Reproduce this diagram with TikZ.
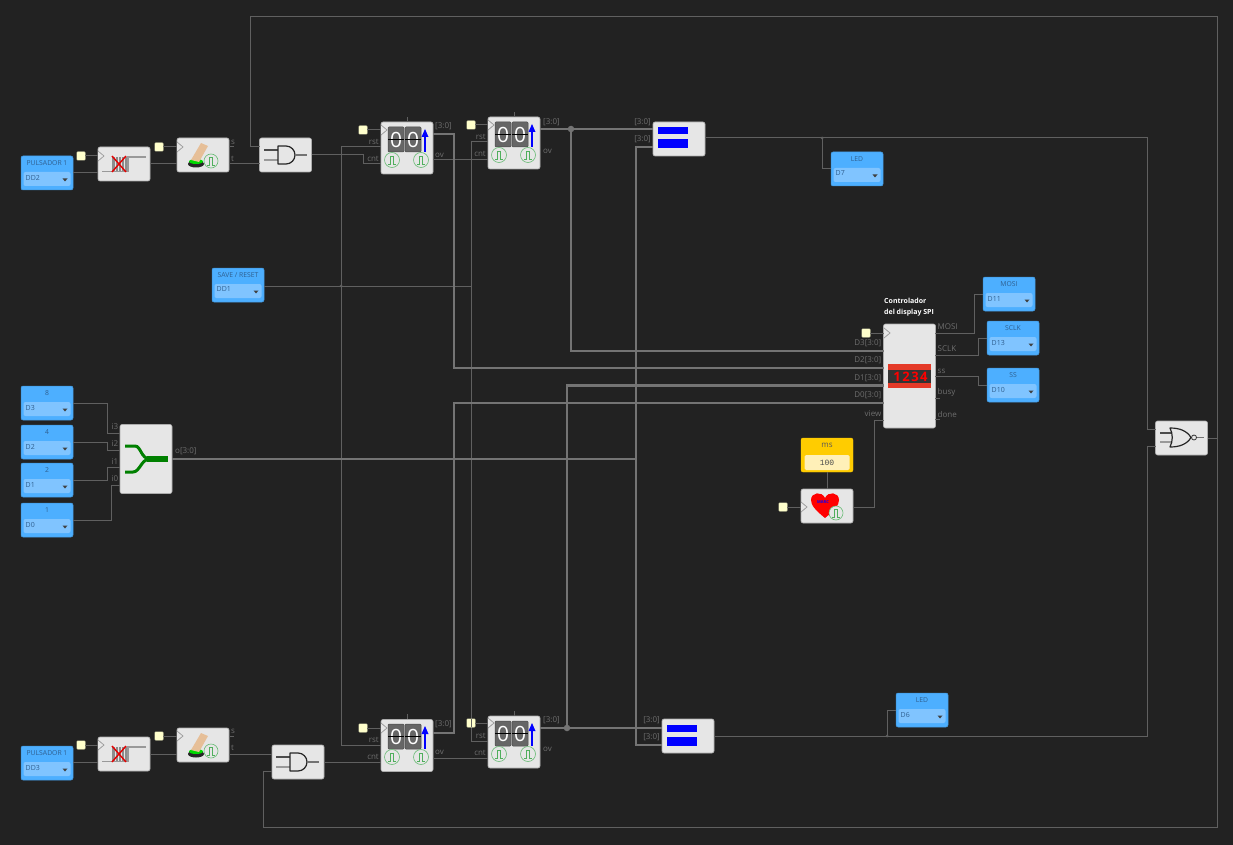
\documentclass[tikz,border=0pt]{standalone}
\usepackage{fontspec}
\setmainfont{Open Sans}
\newfontfamily\monofont{Liberation Mono}
\usetikzlibrary{positioning}
\definecolor{bgcol}{HTML}{222222}
\definecolor{blockcol}{HTML}{E6E6E6}
\definecolor{bluecol}{HTML}{4DAFFF}
\definecolor{bluein}{HTML}{80C4FF}
\definecolor{bluetxt}{HTML}{2F5F8F}
\definecolor{wirecol}{HTML}{606060}
\definecolor{buscol}{HTML}{747474}
\definecolor{labcol}{HTML}{6E6E6E}
\definecolor{yelcol}{HTML}{FFFFCC}
\definecolor{pulsecol}{HTML}{4FAF5C}
\definecolor{fingcol}{HTML}{E6BF98}
\definecolor{goldcol}{HTML}{FFCC00}
\definecolor{goldin}{HTML}{FFF0B8}
\definecolor{dispcol}{HTML}{E43A28}
\tikzset{
  block/.style={draw=blockcol!75!black,fill=blockcol,rounded corners=2pt,line width=.6pt,inner sep=0,outer sep=0,minimum width=52pt,minimum height=#1},
  block/.default=34pt,
  bluebox/.style={draw=bluecol!85!black,fill=bluecol,rounded corners=2pt,line width=.5pt,inner sep=0,outer sep=0,minimum width=52pt,minimum height=34pt},
  bluepin/.style={fill=bluein,rounded corners=2pt,inner sep=0,minimum width=47pt,minimum height=14pt},
  bluetitle/.style={text=bluetxt,font=\fontsize{6.8}{8}\selectfont,inner sep=0},
  pintxt/.style={text=bluetxt,font=\fontsize{7}{8}\selectfont,inner sep=0,anchor=west},
  clkbox/.style={draw=yelcol!70!black,fill=yelcol,rounded corners=.8pt,line width=.4pt,inner sep=0,outer sep=0,minimum size=8.5pt},
  wire/.style={draw=wirecol,line width=1pt},
  bus/.style={draw=buscol,line width=2.8pt},
  dot/.style={circle,fill=#1,inner sep=0,minimum size=6.5pt},
  pinl/.style={text=labcol,font=\fontsize{8}{9}\selectfont,inner sep=0,anchor=east},
  pinr/.style={text=labcol,font=\fontsize{8}{9}\selectfont,inner sep=0,anchor=west},
  gate/.style={draw=black!85,line width=1.2pt,line join=round},
  lead/.style={draw=#1,line width=1.1pt},
  lead/.default=black!70
}
% yellow clock pin: name, square x, block x, y
\newcommand{\clkin}[4]{
\node[clkbox] (#1) at (#2,#4) {};
\coordinate (#1c) at (#3,#4);
\draw[wire] (#1) -- (#1c);
\draw[draw=black!40,line width=.7pt,fill=blockcol] (#3,#4-5) -- (#3+6,#4) -- (#3,#4+5);
}
% input or output block in blue: name, centre x, centre y, title, pin
\newcommand{\bluepinbox}[5]{
\node[bluebox] (#1) at (#2,#3) {};
\node[bluepin] (#1in) at (#2,#3+6) {};
\node[bluetitle] (#1ti) at (#2,#3-10) {#4};
\node[pintxt] (#1pn) at (#2-21.5,#3+4.5) {#5};
\fill[black!75] (#2+15.5,#3+5.5) -- (#2+20.5,#3+5.5) -- (#2+18,#3+8.5) -- cycle;
}
\newcommand{\pulsec}[3]{
\draw[pulsecol!85!white,line width=.6pt,fill=blockcol] (#1,#2) circle (#3);
\draw[pulsecol,line width=.7pt] (#1-4,#2+4.5) -- (#1-1.7,#2+4.5) -- (#1-1.7,#2-4) -- (#1+1.7,#2-4) -- (#1+1.7,#2+4.5) -- (#1+4,#2+4.5);
}
\newcommand{\cntic}[2]{
\foreach \dx/\dn in {7/d1,24/d2}{
  \fill[black!60,rounded corners=1pt,draw=black!70,line width=.5pt] (#1+\dx,#2+5) rectangle (#1+\dx+16,#2+30);
  \node[text=white,font=\fontsize{21}{21}\selectfont,inner sep=0] (c#1\dn) at (#1+\dx+8,#2+17.5) {0};
  \draw[black,line width=.7pt] (#1+\dx,#2+17.5) -- (#1+\dx+16,#2+17.5);
}
\draw[blue,line width=1.6pt] (#1+44,#2+30) -- (#1+44,#2+13);
\fill[blue] (#1+40.5,#2+15) -- (#1+44,#2+7) -- (#1+47.5,#2+15) -- cycle;
\pulsec{#1+11}{#2+38}{7.5pt}
\pulsec{#1+40}{#2+38}{7.5pt}
}
\newcommand{\eqic}[3]{
\fill[blue] (#1+5,#2+#3) rectangle (#1+35,#2+#3+7);
\fill[blue] (#1+5,#2+#3+12) rectangle (#1+35,#2+#3+21);
}
\newcommand{\bounceic}[2]{
\fill[black!45] (#1+14,#2+10) rectangle (#1+30,#2+25);
\draw[draw=black!40,line width=1.2pt] (#1+4,#2+24.5) -- (#1+30,#2+24.5) -- (#1+30,#2+10) -- (#1+48,#2+10);
\foreach \bx in {17,20,23,26}{\draw[blockcol,line width=.6pt] (#1+\bx,#2+10) -- (#1+\bx,#2+24);}
\draw[red!90!black,line width=1.4pt] (#1+14,#2+9) -- (#1+28,#2+25) (#1+28,#2+9) -- (#1+14,#2+25);
}
\newcommand{\toggleic}[2]{
\fill[black!85] (#1+19,#2+26) ellipse (8pt and 3.5pt);
\fill[green!85!black] (#1+19,#2+23.5) ellipse (7pt and 2.5pt);
\fill[fingcol] (#1+14,#2+22) -- (#1+24,#2+5) -- (#1+31,#2+8) -- (#1+22,#2+24) -- cycle;
\pulsec{#1+34}{#2+23}{7pt}
}
\newcommand{\andic}[2]{
\draw[lead] (#1+4,#2+12) -- (#1+18,#2+12);
\draw[lead=black!40] (#1+4,#2+22) -- (#1+18,#2+22);
\draw[gate,fill=blockcol] (#1+18,#2+8) -- (#1+26,#2+8) arc (90:-90:9pt) -- (#1+18,#2+26) -- cycle;
\draw[lead=black!55] (#1+35,#2+17) -- (#1+47,#2+17);
}
\begin{document}
\begin{tikzpicture}[x=1pt,y=-1pt]
\useasboundingbox[fill=bgcol] (0,0) rectangle (1233,845);
% top row
\bluepinbox{pulsA}{47}{173}{PULSADOR 1}{DD2}
\node[block] (debA) at (124,164) {};
\node[block] (togA) at (203,155) {};
\node[block] (andA) at (285.5,155) {};
\node[block=52pt] (cntA) at (407,148) {};
\node[block=52pt] (cntB) at (514,143) {};
\node[block] (eqA) at (679,139) {};
\bluepinbox{ledA}{857}{169}{LED}{D7}
% bottom row
\bluepinbox{pulsB}{47}{763}{PULSADOR 1}{DD3}
\node[block] (debB) at (124,754) {};
\node[block] (togB) at (203,745) {};
\node[block] (andB) at (298,762) {};
\node[block=52pt] (cntC) at (407,745.5) {};
\node[block=52pt] (cntD) at (514,742) {};
\node[block] (eqB) at (688,736) {};
\bluepinbox{ledB}{922}{710}{LED}{D6}
% middle
\bluepinbox{savep}{238}{285}{SAVE / RESET}{DD1}
\bluepinbox{numE}{47}{403}{8}{D3}
\bluepinbox{numF}{47}{442}{4}{D2}
\bluepinbox{numG}{47}{480}{2}{D1}
\bluepinbox{numH}{47}{520}{1}{D0}
\node[block=69pt] (split) at (146,459) {};
\node[block=104pt] (spi) at (909.5,376) {};
\bluepinbox{mosi}{1009}{294}{MOSI}{D11}
\bluepinbox{sclk}{1013}{338}{SCLK}{D13}
\bluepinbox{ssel}{1013}{385}{SS}{D10}
\node[block] (beat) at (827,506) {};
\node[draw=goldcol,fill=goldcol,rounded corners=2pt,inner sep=0,minimum width=52pt,minimum height=34pt] (msbox) at (827,455) {};
\node[fill=goldin,rounded corners=1.5pt,inner sep=0,minimum width=45pt,minimum height=15pt] (msin) at (827,462.5) {};
\node[bluetitle,text=black!65,font=\fontsize{8}{9}\selectfont] (mstxt) at (827,445) {ms};
\node[text=black!70,font=\monofont\fontsize{8}{9}\selectfont,inner sep=0] (msval) at (827,462.5) {100};
\node[block] (norg) at (1181.5,438) {};
% pins
\coordinate (cArst) at (381,147);
\coordinate (cAcnt) at (381,164);
\coordinate (cAov) at (433,160);
\coordinate (cAq) at (433,134);
\coordinate (cBrst) at (488,142);
\coordinate (cBcnt) at (488,160);
\coordinate (cBq) at (540,129);
\coordinate (cCrst) at (381,745);
\coordinate (cCcnt) at (381,762);
\coordinate (cCov) at (433,758);
\coordinate (cCq) at (433,733);
\coordinate (cDrst) at (488,741);
\coordinate (cDcnt) at (488,758);
\coordinate (cDq) at (540,728);
\coordinate (eAa) at (653,129);
\coordinate (eAb) at (653,147);
\coordinate (eAq) at (705,138);
\coordinate (eBa) at (662,728);
\coordinate (eBb) at (662,745);
\coordinate (spD3) at (884,351);
\coordinate (spD2) at (884,368);
\coordinate (spD1) at (884,385.5);
\coordinate (spD0) at (884,403);
\coordinate (spview) at (884,420);
\coordinate (spmosi) at (935,333);
\coordinate (spsclk) at (935,355);
\coordinate (spss) at (935,376);
\coordinate (norA) at (1156,429);
\coordinate (norB) at (1156,446);
\coordinate (loopR) at (1217,438);
\coordinate (andAa) at (260,147);
\coordinate (andAb) at (260,164);
\coordinate (andBa) at (272,754);
\coordinate (andBb) at (272,771);
\coordinate (togAt) at (229,164);
\coordinate (togAin) at (177,164);
\coordinate (togBt) at (229,754);
\coordinate (togBin) at (177,754);
\coordinate (debAin) at (98,173);
\coordinate (debBin) at (98,762);
\coordinate (spI3) at (120,433);
\coordinate (spI2) at (120,450);
\coordinate (spI1) at (120,467);
\coordinate (spI0) at (120,485);
% wires
\draw[wire] (pulsA.east |- debAin) -- (debAin);
\draw[wire] (debA.east) -- (togAin);
\draw[wire] (togAt) -- (andAb);
\draw[wire] (andA.east) -- (363,155) -- (363,164) -- (cAcnt);
\draw[wire] (cAov) -- (cBcnt);
\draw[wire] (341,147) -- (cArst);
\draw[wire] (cCrst) -- (341,745) -- (341,147);
\draw[wire] (savep.east |- 0,286) -- (471,286);
\draw[wire] (cBrst) -- (471,142) -- (471,741) -- (cDrst);
\draw[wire] (pulsB.east |- debBin) -- (debBin);
\draw[wire] (debB.east) -- (togBin);
\draw[wire] (togBt) -- (andBa);
\draw[wire] (andB.east) -- (cCcnt);
\draw[wire] (cCov) -- (cDcnt);
\draw[wire] (eAq) -- (1147,138) -- (1147,429) -- (norA);
\draw[wire] (822,138) -- (822,169) -- (ledA.west);
\draw[wire] (eqB.east) -- (1147,736) -- (1147,446) -- (norB);
\draw[wire] (887,736) -- (887,710) -- (ledB.west);
\draw[wire] (norg.east) -- (loopR);
\draw[wire] (loopR) -- (1217,17) -- (250,17) -- (250,147) -- (andAa);
\draw[wire] (loopR) -- (1217,827) -- (263,827) -- (263,771) -- (andBb);
\draw[wire] (numE.east) -- (107,403) -- (107,433) -- (spI3);
\draw[wire] (numF.east) -- (107,442) -- (107,450) -- (spI2);
\draw[wire] (numG.east) -- (107,480) -- (107,467) -- (spI1);
\draw[wire] (numH.east) -- (111,520) -- (111,485) -- (spI0);
\draw[wire] (spmosi) -- (974,333) -- (974,294) -- (mosi.west);
\draw[wire] (spsclk) -- (978,355) -- (978,338) -- (sclk.west);
\draw[wire] (spss) -- (978,376) -- (978,385) -- (ssel.west);
\draw[wire] (spview) -- (874,420) -- (874,507) -- (beat.east |- 0,507);
\draw[wire] (msbox.south) -- (beat.north);
% buses
\draw[bus] (cAq) -- (454,134) -- (454,368) -- (spD2);
\draw[bus] (cBq) -- (eAa);
\draw[bus] (571,129) -- (571,351) -- (spD3);
\draw[bus] (cCq) -- (454,733) -- (454,403) -- (spD0);
\draw[bus] (cDq) -- (eBa);
\draw[bus] (567,728) -- (567,385.5) -- (spD1);
\draw[bus] (eAb) -- (636,147) -- (636,745) -- (eBb);
\draw[bus] (split.east) -- (636,459);
\node[dot=buscol] (dotA) at (571,129) {};
\node[dot=buscol] (dotB) at (567,728) {};
\node[dot=wirecol,minimum size=3pt] (dotC) at (822,138) {};
\node[dot=wirecol,minimum size=3pt] (dotD) at (887,736) {};
\node[dot=wirecol,minimum size=3pt] (dotE) at (341,286) {};
% small stubs on the blocks
\foreach \sx/\sy in {407/117,514/112,407/714,514/711}{\draw[wire] (\sx,\sy) -- (\sx,\sy+5);}
\foreach \sx/\sy in {229/147,229/736}{\draw[wire] (\sx,\sy) -- (\sx+5,\sy);}
\foreach \sy in {398,419}{\draw[wire] (935,\sy) -- (940,\sy);}
% clocks
\clkin{ckA}{81}{98}{156}
\clkin{ckB}{159}{177}{147}
\clkin{ckC}{363}{381}{130}
\clkin{ckD}{471}{488}{125}
\clkin{ckE}{81}{98}{745}
\clkin{ckF}{159}{177}{736}
\clkin{ckG}{363}{381}{728}
\clkin{ckH}{471}{488}{723}
\clkin{ckI}{866}{884}{333}
\clkin{ckJ}{783}{801}{507}
\draw[wire] (ckH.north) -- (ckH.south);
% icons
\bounceic{98}{147}
\bounceic{98}{737}
\toggleic{177}{138}
\toggleic{177}{728}
\andic{260}{138}
\andic{272}{745}
\cntic{381}{122}
\cntic{488}{117}
\cntic{381}{719}
\cntic{488}{716}
\eqic{653}{122}{5}
\eqic{662}{719}{6}
% splitter icon
\fill[green!50!black] (147,456) rectangle (168,462);
\draw[green!50!black,line width=3pt] (125,446) -- (135,446) .. controls (141,446) and (141,459) .. (150,459);
\draw[green!50!black,line width=3pt] (125,472) -- (133,472) .. controls (140,472) and (141,459) .. (150,459);
% display
\fill[dispcol] (888,364) rectangle (931,388);
\fill[black!80] (888,370) rectangle (931,383);
\node[text=red,font=\fontsize{13}{13}\selectfont\bfseries,inner sep=0] (dispval) at (910.5,376.5) {1\hspace{1.5pt}2\hspace{1.5pt}3\hspace{1.5pt}4};
% heart
\fill[red] (825,518) .. controls (815,510) and (811,505) .. (811,500) .. controls (811,492) and (822,491) .. (825,498) .. controls (828,491) and (839,492) .. (839,500) .. controls (839,505) and (835,510) .. (825,518) -- cycle;
\node[text=blue,font=\fontsize{4}{4}\selectfont\bfseries,inner sep=0] (beattx) at (823,502) {MARC};
\pulsec{836}{513}{7pt}
% nor gate
\draw[lead] (1160,433) -- (1171,433);
\draw[lead=black!40] (1160,442) -- (1171,442);
\draw[gate,fill=blockcol] (1170,428) .. controls (1180,428) and (1187,431) .. (1191,437.5) .. controls (1187,444) and (1180,447) .. (1170,447) .. controls (1173,441) and (1173,434) .. (1170,428) -- cycle;
\draw[draw=black!80,line width=.8pt,fill=blockcol] (1194,437.5) circle (2.5pt);
\draw[lead=black!55] (1197,437.5) -- (1204,437.5);
% labels
\node[pinr] (lbs) at (231,142.5) {s};
\node[pinr] (lbt) at (231,158.5) {t};
\node[pinr] (lbu) at (231,731) {s};
\node[pinr] (lbv) at (231,748) {t};
\node[pinl] (lbA) at (379,142) {rst};
\node[pinl] (lbB) at (379,159) {cnt};
\node[pinr] (lbC) at (435,126) {[3:0]};
\node[pinr] (lbD) at (435,155) {ov};
\node[pinl] (lbE) at (486,137) {rst};
\node[pinl] (lbF) at (486,154) {cnt};
\node[pinr] (lbG) at (543,122) {[3:0]};
\node[pinr] (lbH) at (543,151) {ov};
\node[pinl] (lbI) at (651,122) {[3:0]};
\node[pinl] (lbJ) at (651,139) {[3:0]};
\node[pinl] (lbK) at (379,739.5) {rst};
\node[pinl] (lbL) at (379,756.5) {cnt};
\node[pinr] (lbM) at (435,724) {[3:0]};
\node[pinr] (lbN) at (435,752.5) {ov};
\node[pinl] (lbO) at (486,735.5) {rst};
\node[pinl] (lbP) at (486,752.5) {cnt};
\node[pinr] (lbQ) at (543,720) {[3:0]};
\node[pinr] (lbR) at (543,749) {ov};
\node[pinl] (lbS) at (660,720) {[3:0]};
\node[pinl] (lbT) at (660,737) {[3:0]};
\node[pinl] (lbU) at (118.5,427) {i3};
\node[pinl] (lbV) at (118.5,444) {i2};
\node[pinl] (lbW) at (118.5,462) {i1};
\node[pinl] (lbX) at (118.5,479) {i0};
\node[pinr] (lbY) at (175,451.5) {o[3:0]};
\node[pinl] (lbZ) at (881.5,343) {D3[3:0]};
\node[pinl] (lca) at (881.5,360) {D2[3:0]};
\node[pinl] (lcb) at (881.5,378) {D1[3:0]};
\node[pinl] (lcc) at (881.5,395) {D0[3:0]};
\node[pinl] (lcd) at (881.5,414) {view};
\node[pinr] (lce) at (937.5,327) {MOSI};
\node[pinr] (lcf) at (937.5,349) {SCLK};
\node[pinr] (lcg) at (937.5,371) {ss};
\node[pinr] (lch) at (937.5,392.5) {busy};
\node[pinr] (lci) at (937.5,414) {done};
\node[text=white,font=\fontsize{7}{11}\selectfont\bfseries,inner sep=0,align=left,anchor=west] (spit) at (884,307.5) {Controlador\\del display SPI};
\end{tikzpicture}
\end{document}
